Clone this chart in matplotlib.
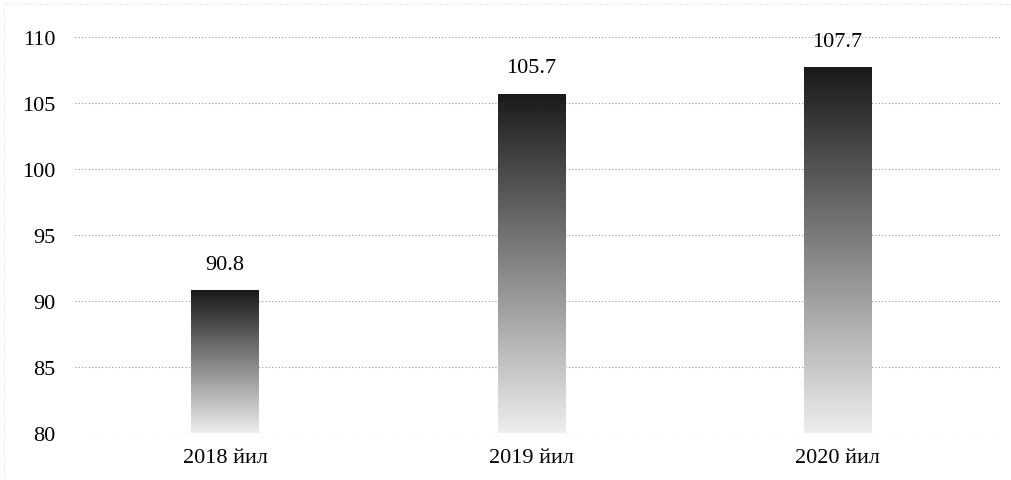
import numpy as np
import matplotlib.pyplot as plt
from matplotlib.patches import Rectangle

years = ['2018 йил', '2019 йил', '2020 йил']
values = [90.8, 105.7, 107.7]
yticks = [80, 85, 90, 95, 100, 105, 110]

plt.rcParams['font.family'] = ['Liberation Serif', 'DejaVu Serif']

fig = plt.figure(figsize=(10.12, 4.81), dpi=100)
ax = fig.add_axes([0.074, 0.098, 0.914, 0.823])

x = np.arange(len(years))
width = 0.22
ymin = 80

bars = ax.bar(x, np.array(values) - ymin, width, bottom=ymin, color='none', edgecolor='none')

# vertical gradient: dark on top, pale at the bottom
grad = np.linspace(0.93, 0.1, 256).reshape(-1, 1)
for b in bars:
    x0 = b.get_x()
    im = ax.imshow(grad, cmap='gray', vmin=0, vmax=1, aspect='auto',
                   extent=[x0, x0 + b.get_width(), ymin, b.get_y() + b.get_height()],
                   origin='lower', zorder=2)
    im.set_clip_path(b)

for xi, v in zip(x, values):
    ax.annotate(f'{v:.1f}', (xi, v), xytext=(0, 12), textcoords='offset points',
                ha='center', va='bottom', fontsize=16)

ax.set_xlim(-0.49, 2.53)
ax.set_ylim(80, 110)
ax.set_yticks(yticks)
ax.set_xticks(x)
ax.set_xticklabels(years, fontsize=16)
ax.tick_params(axis='y', labelsize=16, length=0, pad=14)
ax.tick_params(axis='x', length=0, pad=11)
ax.grid(axis='y', linestyle=(0, (1, 2)), color='#9a9a9a', linewidth=0.8, zorder=0)
ax.set_axisbelow(True)
for s in ax.spines.values():
    s.set_visible(False)

# faint dotted scan frame
fig.patches.append(Rectangle((0.004, 0.0), 0.995, 0.99, transform=fig.transFigure,
                             fill=False, linestyle=(0, (1, 3)), edgecolor='#c8c8c8', linewidth=0.6))

fig.savefig('out.png', dpi=100)
